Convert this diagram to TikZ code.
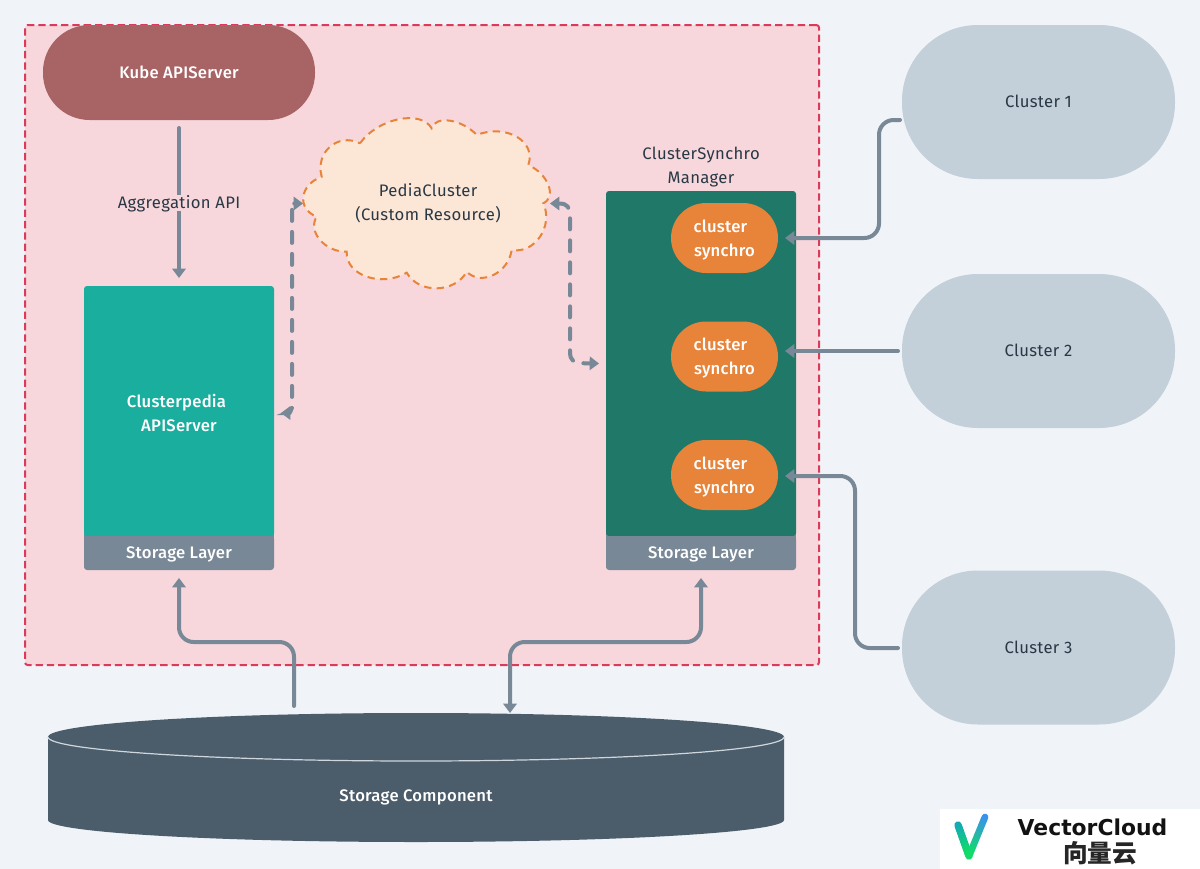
\documentclass[tikz,border=0pt]{standalone}
\usepackage{fontspec}
\setmainfont{Fira Sans}[LetterSpace=2]
\newfontfamily\medfont{Fira Sans Medium}[LetterSpace=1.5]
\newfontfamily\cjk{Noto Sans CJK SC}
\newfontfamily\logofont{DejaVu Sans}
\usetikzlibrary{arrows.meta,calc}
\definecolor{bgc}{HTML}{F0F4F8}
\definecolor{pinkc}{HTML}{F7D7DC}
\definecolor{redc}{HTML}{DB3B5A}
\definecolor{kubec}{HTML}{A86464}
\definecolor{tealc}{HTML}{1AAE9F}
\definecolor{greenc}{HTML}{207868}
\definecolor{greyc}{HTML}{788896}
\definecolor{clusc}{HTML}{C3CFD9}
\definecolor{orangec}{HTML}{E8833A}
\definecolor{darkc}{HTML}{4B5C6B}
\definecolor{textc}{HTML}{293845}
\definecolor{cloudc}{HTML}{FCE6D6}
\definecolor{vgreen}{HTML}{10E060}
\definecolor{vteal}{HTML}{14A8B8}
\definecolor{vblue}{HTML}{3A90F0}
\newcommand\dn{\rule{0pt}{12.2pt}}
\tikzset{
  x=0.75pt,y=-0.75pt,
  base/.style={inner sep=0pt,outer sep=0pt,align=center,font=\medfont\fontsize{12.5}{18}\selectfont,text=white},
  oneline/.style={text height=8.6pt,text depth=0pt},
  mainbox/.style={base,rounded corners=2.25pt,minimum width=190*.75pt},
  storelayer/.style={mainbox,oneline,fill=greyc,minimum height=34*.75pt},
  synchro/.style={base,fill=orangec,rounded corners=35*.75pt,minimum width=107*.75pt,minimum height=70*.75pt},
  clusternode/.style={base,oneline,font=\rmfamily\fontsize{12.5}{18}\selectfont,text=textc,fill=clusc,rounded corners=57pt,minimum width=273*.75pt,minimum height=154*.75pt},
  dark/.style={base,font=\rmfamily\fontsize{12.5}{18}\selectfont,text=textc},
  conn/.style={draw=greyc,line width=3pt,rounded corners=11pt,line cap=round},
  arrowtip/.style={-{Triangle[length=7pt,width=10pt]}},
  bothtips/.style={{Triangle[length=7pt,width=10pt]}-{Triangle[length=7pt,width=10pt]}},
  dashconn/.style={draw=greyc,line width=3pt,line cap=round,dash pattern=on 8.25pt off 8.25pt,bothtips},
}
\begin{document}
\begin{tikzpicture}
\useasboundingbox (0,0) rectangle (1200,868);
\fill[bgc] (-2,-2) rectangle (1202,870);
% frame
\node[base,fill=pinkc,draw=redc,line width=1.5pt,dash pattern=on 5.5pt off 3pt,rounded corners=2pt,minimum width=794*.75pt,minimum height=640*.75pt] (frame) at (422,345) {};
% grey underlay for the squared joint of box and storage layer
\fill[greyc] (84,530) rectangle (274,545);
\fill[greyc] (606,530) rectangle (796,545);
% cloud
\node[base,minimum width=246*.75pt,minimum height=169*.75pt] (cloud) at (426,203.5) {};
\draw[fill=cloudc,draw=orangec,line width=1.5pt,dash pattern=on 5.5pt off 4pt]
 (360,143.3) .. controls (377.6,118.3) and (420.7,109.3) .. (431.7,128.3)
 .. controls (435.1,115) and (462.1,119.1) .. (476.7,135)
 .. controls (505.9,123.3) and (536.9,141.3) .. (528.3,165)
 .. controls (548,173.8) and (557,196.7) .. (543.3,203.3)
 .. controls (553.7,226) and (534.7,254.1) .. (511.7,250)
 .. controls (508.2,273.2) and (481.2,286.3) .. (466.7,271.7)
 .. controls (454.7,293.4) and (418.7,294) .. (406.7,272.7)
 .. controls (381.4,287.8) and (345.4,275.2) .. (346.7,251.7)
 .. controls (325.1,252.4) and (307.1,231.4) .. (316.7,216.7)
 .. controls (296.5,208.7) and (299.5,184.7) .. (321.7,176.7)
 .. controls (314.9,152.3) and (337.8,132.3) .. (360,143.3) -- cycle;
\node[dark] (pedia) at (428,203.5) {PediaCluster\\(Custom Resource)};
% nodes
\node[base,oneline,fill=kubec,rounded corners=35pt,minimum width=272*.75pt,minimum height=95*.75pt] (kube) at (179,72.5) {Kube APIServer};
\node[mainbox,fill=tealc,minimum height=250*.75pt] (apiserver) at (179,411) {\dn Clusterpedia\hspace*{3.75pt}\\APIServer};
\node[storelayer] (store1) at (179,553) {Storage Layer};
\node[mainbox,fill=greenc,minimum height=345*.75pt] (manager) at (701,363.5) {};
\node[storelayer] (store2) at (701,553) {Storage Layer};
\node[dark] (mgrlabel) at (701,167.5) {ClusterSynchro\\Manager};
\node[synchro] (s1) at (724.5,238) {\dn cluster\hspace*{6pt}\\synchro};
\node[synchro] (s2) at (724.5,356.5) {\dn cluster\hspace*{6pt}\\synchro};
\node[synchro] (s3) at (724.5,475) {\dn cluster\hspace*{6pt}\\synchro};
\node[clusternode] (c1) at (1038.5,102) {Cluster 1};
\node[clusternode] (c2) at (1038.5,351) {Cluster 2};
\node[clusternode] (c3) at (1038.5,647.5) {Cluster 3};
% cylinder
\node[base,minimum width=736*.75pt,minimum height=129*.75pt] (disk) at (416,777.5) {};
\fill[darkc] (48,737) .. controls (48,723.7) and (212.7,713) .. (416,713)
  .. controls (619.3,713) and (784,723.7) .. (784,737) -- (784,820)
  .. controls (784,832.2) and (619.3,842) .. (416,842)
  .. controls (212.7,842) and (48,832.2) .. (48,820) -- cycle;
\draw[bgc!80!darkc,line width=0.9pt] (48,737) .. controls (48,750.3) and (212.7,761) .. (416,761)
  .. controls (619.3,761) and (784,750.3) .. (784,737);
\node[base,oneline] (disklabel) at (416,796) {Storage Component};
% connectors
\draw[conn,rounded corners=0pt,arrowtip] ([shift={(0,8)}]kube.south) -- ([shift={(0,-8)}]apiserver.north);
\node[dark,oneline,fill=pinkc,inner sep=2pt] (agg) at (179,203) {Aggregation API};
\draw[conn,arrowtip] ([shift={(-2,18)}]c1.west) -- ++(-21,0) -- ++(0,118) -- ([shift={(7,0)}]s1.east);
\draw[conn,arrowtip] ([shift={(-4,0)}]c2.west) -- ([shift={(7,0)}]s2.east |- c2.west);
\draw[conn,arrowtip] ([shift={(-4,0.5)}]c3.west) -- ++(-43,0) -- ++(0,-172) -- ([shift={(7,1)}]s3.east);
\draw[dashconn,rounded corners=4pt] ([shift={(7,2)}]apiserver.east) -- ++(11,0) -- ++(0,-209.5) -- (cloud.west);
\draw[dashconn,rounded corners=7pt] ([shift={(1,0)}]cloud.east) -- ++(20,0) -- ++(0,159.5) -- ([shift={(-7,0)}]manager.west);
\draw[conn,arrowtip] ([shift={(-122,-7)}]disk.north) -- ++(0,-64) -- ++(-115,0) -- ([shift={(0,8)}]store1.south);
\draw[conn,bothtips] ([shift={(94,0)}]disk.north) -- ++(0,-71) -- ++(191,0) -- ([shift={(0,8)}]store2.south);
% logo
\fill[white] (940,809) rectangle (1202,870);
\foreach \i in {0,...,15}{
  \pgfmathsetmacro\ta{\i/16}\pgfmathsetmacro\tb{(\i+1)/16}\pgfmathsetmacro\p{100*\ta}
  \draw[line width=5.5pt,line cap=round,color={vgreen!\p!vteal}] ({958+11*\ta},{825+31*\ta}) -- ({958+11*\tb},{825+31*\tb});
  \draw[line width=5pt,line cap=round,color={vgreen!\p!vblue}] ({985-16*\ta},{817+39*\ta}) -- ({985-16*\tb},{817+39*\tb});
}
\node[inner sep=0pt,font=\logofont\bfseries\fontsize{16.4}{18}\selectfont,text=black!93] (logoen) at (1092.5,827) {VectorCloud};
\node[inner sep=0pt,font=\cjk\bfseries\fontsize{18.5}{20}\selectfont,text=black!85] (logocn) at (1100,853) {向量云};
\end{tikzpicture}
\end{document}
